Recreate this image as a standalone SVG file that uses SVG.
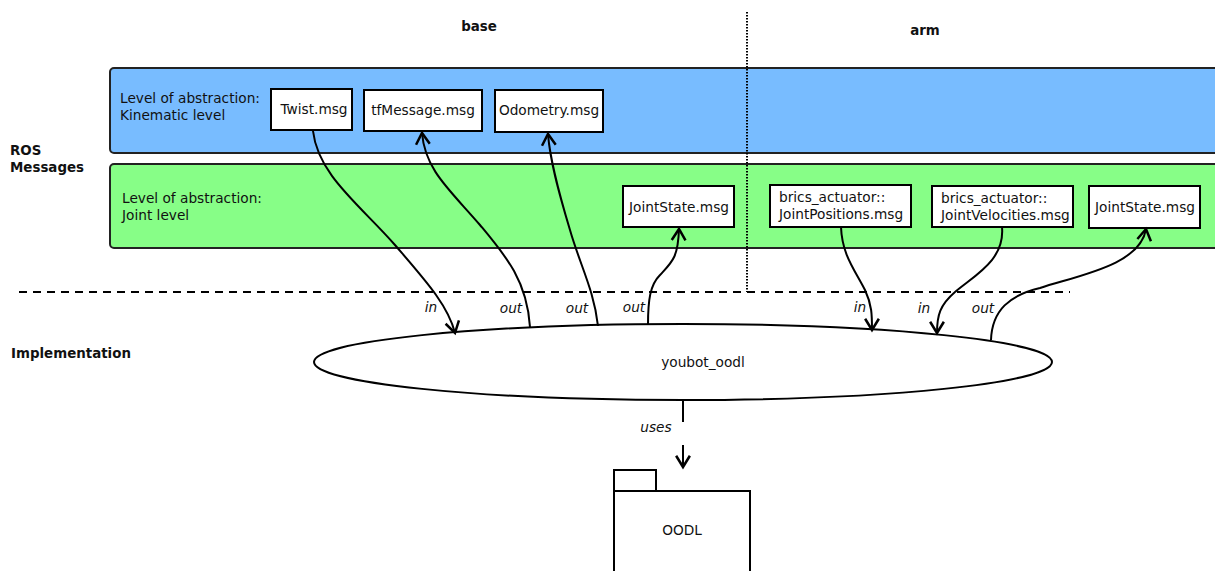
<svg xmlns="http://www.w3.org/2000/svg" width="1215" height="571" viewBox="0 0 1215 571">
<defs>
<marker id="arr" markerUnits="userSpaceOnUse" markerWidth="20" markerHeight="20" refX="0" refY="0" viewBox="-12 -8 14 16" orient="auto" overflow="visible">
<path d="M-9,-5.5 L0,0 L-9,5.5" fill="none" stroke="#000" stroke-width="2"/>
</marker>
<style>
text{font-family:"DejaVu Sans","Liberation Sans",sans-serif;fill:#111}
.t{font-size:13.7px}
.b{font-size:13.4px;font-weight:bold}
.i{font-size:13.7px;font-style:italic;text-anchor:middle}
.m{font-size:13.7px;text-anchor:middle}
.box{fill:#fff;stroke:#000;stroke-width:2}
.c{fill:none;stroke:#000;stroke-width:2}
</style>
</defs>
<rect width="1215" height="571" fill="#fff"/>
<g id="bands">
<rect x="110" y="68" width="1115" height="85" rx="4" fill="#78BCFF" stroke="#222" stroke-width="2"/>
<rect x="110" y="164" width="1115" height="84" rx="4" fill="#87FE87" stroke="#222" stroke-width="2"/>
<text class="t" x="120" y="103">Level of abstraction:</text>
<text class="t" x="120" y="120">Kinematic level</text>
<text class="t" x="122" y="203">Level of abstraction:</text>
<text class="t" x="122" y="220">Joint level</text>
</g>
<g id="dividers">
<line x1="747" y1="12" x2="747" y2="292" stroke="#000" stroke-width="2" stroke-dasharray="1.5,1.5"/>
<line x1="19" y1="292" x2="1070" y2="292" stroke="#000" stroke-width="2" stroke-dasharray="8,6"/>
</g>
<g id="headings">
<text class="b" x="479" y="31" text-anchor="middle">base</text>
<text class="b" x="925" y="35" text-anchor="middle">arm</text>
<text class="b" x="10" y="155">ROS</text>
<text class="b" x="10" y="172">Messages</text>
<text class="b" x="11" y="358">Implementation</text>
</g>
<g id="twist"><rect class="box" x="271" y="89" width="81" height="41"/><text class="m" x="314" y="114">Twist.msg</text></g>
<g id="tfmessage"><rect class="box" x="364" y="90" width="118" height="41"/><text class="m" x="423" y="115">tfMessage.msg</text></g>
<g id="odometry"><rect class="box" x="495" y="90" width="108" height="42"/><text class="m" x="549" y="115">Odometry.msg</text></g>
<g id="jointstate-base"><rect class="box" x="623" y="186" width="111" height="41"/><text class="m" x="679" y="212">JointState.msg</text></g>
<g id="jointpositions"><rect class="box" x="770" y="185" width="141" height="42"/><text class="t" x="779" y="202">brics_actuator::</text><text class="t" x="779" y="219">JointPositions.msg</text></g>
<g id="jointvelocities"><rect class="box" x="932" y="186" width="141" height="41"/><text class="t" x="941" y="203">brics_actuator::</text><text class="t" x="941" y="220">JointVelocities.msg</text></g>
<g id="jointstate-arm"><rect class="box" x="1089" y="186" width="111" height="42"/><text class="m" x="1145" y="212">JointState.msg</text></g>
<g id="youbot_oodl"><ellipse cx="683" cy="362" rx="369" ry="38" fill="#fff" stroke="#000" stroke-width="2"/><text class="m" x="703" y="367">youbot_oodl</text></g>
<g id="oodl">
<rect class="box" x="614" y="470" width="42" height="21"/>
<rect class="box" x="614" y="491" width="136" height="90"/>
<text class="m" x="682" y="535">OODL</text>
</g>
<g id="connectors">
<path class="c" d="M313,131 C318,175 360,205 395,245 C425,280 448,305 455,333" marker-end="url(#arr)"/>
<path class="c" d="M530,327 C527,280 505,255 480,225 C450,190 425,170 422,133" marker-end="url(#arr)"/>
<path class="c" d="M598,326 C594,290 580,265 570,230 C558,190 550,160 548,134" marker-end="url(#arr)"/>
<path class="c" d="M648,325 C648,300 650,285 660,275 C672,262 678,258 679,229" marker-end="url(#arr)"/>
<path class="c" d="M841,227 C842,255 855,270 865,290 C872,305 872,315 872,330" marker-end="url(#arr)"/>
<path class="c" d="M1002,227 C1005,260 975,275 955,292 C940,305 937,315 937,333" marker-end="url(#arr)"/>
<path class="c" d="M991,340 C992,310 1010,295 1040,288 C1080,275 1140,265 1146,229" marker-end="url(#arr)"/>
<line class="c" x1="683" y1="400" x2="683" y2="422"/>
<line class="c" x1="683" y1="445" x2="683" y2="467" marker-end="url(#arr)"/>
<text class="i" x="431" y="312">in</text>
<text class="i" x="511" y="313">out</text>
<text class="i" x="577" y="313">out</text>
<text class="i" x="634" y="312">out</text>
<text class="i" x="860" y="312">in</text>
<text class="i" x="924" y="313">in</text>
<text class="i" x="983" y="313">out</text>
<text class="i" x="656" y="432">uses</text>
</g>
</svg>
